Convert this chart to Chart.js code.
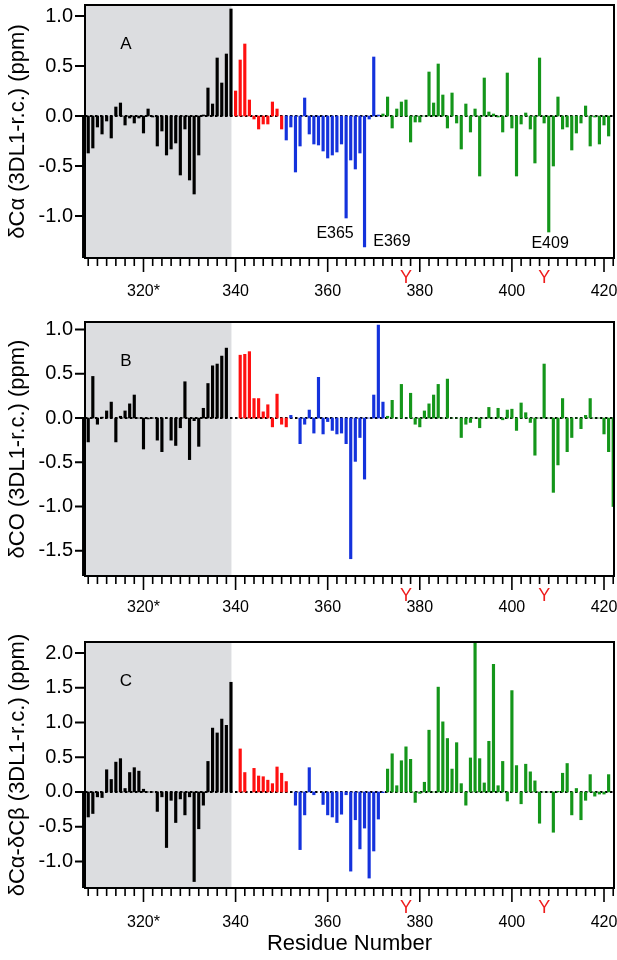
<!DOCTYPE html>
<html>
<head>
<meta charset="utf-8">
<title>3DL1 chemical shift differences</title>
<script src="https://cdn.jsdelivr.net/npm/chart.js@4.4.1/dist/chart.umd.min.js"></script>
<style>
  html, body { margin: 0; padding: 0; background: #fff; }
  body { width: 617px; height: 960px; position: relative; overflow: hidden; }
  .panel { position: absolute; left: 0; width: 617px; }
  #boxA { top: 0; height: 315px; }
  #boxB { top: 300px; height: 325px; }
  #boxC { top: 615px; height: 345px; }
</style>
</head>
<body>
<div class="panel" id="boxA"><canvas id="chartA"></canvas></div>
<div class="panel" id="boxB"><canvas id="chartB"></canvas></div>
<div class="panel" id="boxC"><canvas id="chartC"></canvas></div>
<script>
// one value per residue, starting at firstResidue (null = no bar)
const firstResidue = 307;

// A: dCa (3DL1 - r.c.) ppm
const dCaA = [
  -1.5, -0.37, -0.32, -0.11, -0.18, -0.05, -0.22, 0.09, 0.13, -0.09,
  -0.02, -0.07, -0.02, -0.17, 0.07, -0.01, -0.30, -0.15, -0.39, -0.33,
  -0.27, -0.59, -0.13, -0.64, -0.78, -0.39, 0.01, 0.28, 0.12, 0.58,
  0.33, 0.62, 1.07, 0.25, 0.56, 0.72, 0.16, -0.03, -0.13, -0.08,
  -0.08, 0.14, 0.07, -0.13, -0.24, -0.11, -0.56, -0.30, 0.18, -0.18,
  -0.28, -0.29, -0.35, -0.42, -0.39, -0.36, -0.28, -1.02, -0.44, -0.53,
  -0.37, -1.31, -0.03, 0.59, 0.01, 0.02, 0.19, -0.12, 0.07, 0.14,
  0.16, -0.26, -0.06, -0.06, 0.00, 0.44, 0.13, 0.52, 0.21, -0.12,
  0.23, -0.07, -0.33, 0.12, -0.16, 0.07, -0.60, 0.38, 0.04, 0.02,
  -0.01, -0.16, 0.43, -0.12, -0.60, -0.08, 0.03, -0.13, -0.47, 0.58,
  -0.07, -1.16, -0.50, 0.19, -0.13, -0.11, -0.34, -0.17, -0.07, 0.10,
  -0.30, -0.01, -0.28, -0.09, -0.20, null
];

// B: dCO (3DL1 - r.c.) ppm
const dCoB = [
  -1.9, -0.27, 0.47, -0.07, 0.01, 0.08, 0.18, -0.27, 0.02, 0.08,
  0.16, 0.26, 0.00, -0.35, -0.01, 0.00, -0.25, -0.38, 0.00, -0.25,
  -0.31, -0.11, 0.41, -0.47, -0.03, -0.32, 0.11, 0.39, 0.59, 0.61,
  0.70, 0.79, null, null, 0.71, 0.72, 0.75, 0.22, 0.22, 0.07,
  0.15, -0.10, 0.27, -0.07, -0.10, 0.03, null, -0.29, -0.07, 0.09,
  -0.17, 0.46, -0.18, -0.04, -0.14, -0.18, -0.17, -0.29, -1.59, -0.49,
  -0.22, -0.69, 0.00, 0.26, 1.05, 0.18, 0.02, 0.20, 0.00, 0.38,
  0.00, 0.28, -0.07, -0.10, 0.08, 0.16, 0.26, 0.38, 0.00, 0.44,
  0.00, 0.00, -0.22, -0.07, -0.05, 0.00, -0.11, 0.00, 0.12, 0.00,
  0.11, -0.02, 0.09, 0.10, -0.14, 0.17, 0.06, -0.05, -0.42, 0.00,
  0.61, 0.00, -0.84, -0.53, 0.22, -0.38, -0.22, 0.00, -0.12, 0.03,
  0.22, 0.00, 0.00, -0.18, -0.38, -1.00
];

// C: dCa - dCb (3DL1 - r.c.) ppm
const dCaCbC = [
  -1.5, -0.36, -0.31, -0.07, -0.08, 0.32, 0.18, 0.43, 0.48, 0.05,
  0.28, 0.35, 0.30, 0.04, 0.00, 0.00, -0.28, -0.07, -0.80, -0.12,
  -0.44, -0.10, -0.33, -0.07, -1.29, -0.53, -0.19, 0.44, 0.92, 0.85,
  1.05, 0.96, 1.58, null, 0.62, 0.28, null, 0.34, 0.23, 0.22,
  0.17, 0.12, 0.36, 0.27, 0.15, null, -0.19, -0.83, -0.33, 0.35,
  -0.04, null, -0.18, -0.33, -0.36, -0.44, -0.32, -0.04, -1.14, -0.40,
  -0.82, -0.52, -1.24, -0.85, -0.39, -0.01, 0.33, 0.55, 0.09, 0.45,
  0.65, 0.47, -0.15, -0.02, 0.14, 0.89, 0.00, 1.51, 1.01, 0.77,
  0.33, 0.71, 0.12, -0.19, 0.49, 2.20, 0.48, 0.13, 0.73, 1.84,
  0.09, 0.44, -0.13, 1.46, 0.38, -0.17, 0.40, 0.29, 0.16, -0.45,
  0.00, 0.00, -0.58, 0.01, 0.27, 0.41, -0.33, 0.05, -0.40, -0.12,
  0.25, -0.06, -0.03, -0.03, 0.25, null
];

// residue ranges of each coloured segment
const regionsA = { black: [307, 339], red: [340, 350], blue: [351, 371], green: [372, 422] };
const regionsB = { black: [307, 338], red: [341, 351], blue: [352, 372], green: [373, 422] };
const regionsC = { black: [307, 340], red: [341, 351], blue: [352, 372], green: [373, 422] };

const xTicks = [320, 340, 360, 380, 400, 420];
const yTicksA = [-1.0, -0.5, 0.0, 0.5, 1.0];
const yTicksB = [-1.5, -1.0, -0.5, 0.0, 0.5, 1.0];
const yTicksC = [-1.0, -0.5, 0.0, 0.5, 1.0, 1.5, 2.0];

const tyrResidues = [377, 407];
const shadeEnd = 339.1;
const peakLabelsA = [
  { text: "E365", x: 361.6, y: -1.22, align: "center" },
  { text: "E369", x: 369.9, y: -1.30, align: "left" },
  { text: "E409", x: 408.3, y: -1.32, align: "center" }
];

const colors = { black: "#000000", red: "#ff1010", blue: "#1432dc", green: "#14961a" };
const fontFam = "'Liberation Sans', Arial, Helvetica, sans-serif";

Chart.defaults.color = "#000";
Chart.defaults.font.family = fontFam;

function buildDatasets(values, regions) {
  return Object.keys(regions).map(name => {
    const [from, to] = regions[name];
    const pts = [];
    values.forEach((v, i) => {
      const res = firstResidue + i;
      if (v !== null && res >= from && res <= to) pts.push({ x: res, y: v });
    });
    return {
      label: name,
      data: pts,
      backgroundColor: colors[name],
      barThickness: 2.5,
      grouped: false,
      clip: { left: 4, top: 0, right: 0, bottom: 0 }
    };
  });
}

// shading, zero line, frame, ticks and text around each panel
const panelDecor = {
  id: "panelDecor",
  beforeDatasetsDraw(chart, args, o) {
    const { ctx, chartArea: a, scales: { x, y } } = chart;
    ctx.save();
    ctx.fillStyle = "#dcdde0";
    ctx.fillRect(a.left, a.top, x.getPixelForValue(shadeEnd) - a.left, a.bottom - a.top);
    const y0 = y.getPixelForValue(0);
    ctx.strokeStyle = "#000";
    ctx.lineWidth = 2;
    ctx.setLineDash([2.5, 2.5]);
    ctx.beginPath();
    ctx.moveTo(a.left, y0);
    ctx.lineTo(a.right, y0);
    ctx.stroke();
    ctx.restore();
  },
  afterDraw(chart, args, o) {
    const { ctx, chartArea: a, scales: { x, y } } = chart;
    ctx.save();
    ctx.strokeStyle = "#000";
    ctx.lineWidth = 2;
    ctx.strokeRect(a.left, a.top, a.right - a.left, a.bottom - a.top);

    // x ticks, minor every 2 residues
    ctx.lineWidth = 1.6;
    ctx.beginPath();
    for (let r = 308; r <= 422; r += 2) {
      const px = x.getPixelForValue(r);
      const len = r % 20 === 0 ? 14 : 8;
      ctx.moveTo(px, a.bottom);
      ctx.lineTo(px, a.bottom + len);
    }
    ctx.stroke();

    // y ticks
    ctx.lineWidth = 2;
    ctx.beginPath();
    o.yTicks.forEach(v => {
      const py = y.getPixelForValue(v);
      ctx.moveTo(a.left - 10, py);
      ctx.lineTo(a.left, py);
    });
    ctx.stroke();

    // panel letter
    ctx.fillStyle = "#000";
    ctx.font = "17px " + fontFam;
    ctx.textAlign = "center";
    ctx.textBaseline = "middle";
    ctx.fillText(o.letter, a.left + 41, a.top + 39);

    // y title
    ctx.save();
    ctx.translate(23.5, (a.top + a.bottom) / 2);
    ctx.rotate(-Math.PI / 2);
    ctx.font = "22px " + fontFam;
    ctx.textAlign = "center";
    ctx.textBaseline = "alphabetic";
    ctx.fillText(o.yTitle, 0, 0);
    ctx.restore();

    // tyrosine markers under the axis
    ctx.fillStyle = "#ee1c1c";
    ctx.font = "18px " + fontFam;
    ctx.textAlign = "center";
    ctx.textBaseline = "top";
    tyrResidues.forEach(r => ctx.fillText("Y", x.getPixelForValue(r), a.bottom + 11));

    // peak labels
    ctx.fillStyle = "#000";
    ctx.font = "16px " + fontFam;
    ctx.textBaseline = "alphabetic";
    (o.peakLabels || []).forEach(l => {
      ctx.textAlign = l.align;
      ctx.fillText(l.text, x.getPixelForValue(l.x), y.getPixelForValue(l.y));
    });

    if (o.xTitle) {
      ctx.font = "22px " + fontFam;
      ctx.textAlign = "center";
      ctx.fillText(o.xTitle, (a.left + a.right) / 2, a.bottom + o.xTitleOffset);
    }
    ctx.restore();
  }
};

function makePanel(id, values, regions, cfg) {
  return new Chart(document.getElementById(id), {
    type: "bar",
    data: { datasets: buildDatasets(values, regions) },
    plugins: [panelDecor],
    options: {
      responsive: true,
      maintainAspectRatio: false,
      animation: false,
      layout: { autoPadding: false, padding: { top: cfg.padTop, right: 3, left: 0, bottom: 0 } },
      plugins: {
        legend: { display: false },
        tooltip: { enabled: false },
        panelDecor: {
          letter: cfg.letter, yTitle: cfg.yTitle, yTicks: cfg.yTicks,
          peakLabels: cfg.peakLabels, xTitle: cfg.xTitle, xTitleOffset: cfg.xTitleOffset
        }
      },
      scales: {
        x: {
          type: "linear",
          offset: false,
          min: 307.3,
          max: 422.17,
          grid: { display: false, drawTicks: false, offset: false },
          border: { display: false },
          afterBuildTicks: s => { s.ticks = xTicks.map(v => ({ value: v })); },
          afterFit: s => {
            s.height = cfg.xHeight;
            s.paddingLeft = 0;
            s.paddingRight = 0;
          },
          ticks: {
            autoSkip: false,
            maxRotation: 0,
            padding: cfg.xLabelPad,
            font: { size: 16 },
            callback: v => (v === 320 ? "320*" : String(v))
          }
        },
        y: {
          min: cfg.yMin,
          max: cfg.yMax,
          grid: { display: false, drawTicks: false },
          border: { display: false },
          afterBuildTicks: s => { s.ticks = cfg.yTicks.map(v => ({ value: v })); },
          afterFit: s => {
            s.width = 85;
            s.paddingTop = 0;
            s.paddingBottom = 0;
          },
          ticks: {
            padding: 12,
            font: { size: 20 },
            callback: v => v.toFixed(1)
          }
        }
      }
    }
  });
}

makePanel("chartA", dCaA, regionsA, {
  letter: "A", yTitle: "δCα (3DL1-r.c.) (ppm)", yTicks: yTicksA,
  yMin: -1.42, yMax: 1.11, padTop: 5, xHeight: 57, xLabelPad: 24,
  peakLabels: peakLabelsA
});

makePanel("chartB", dCoB, regionsB, {
  letter: "B", yTitle: "δCO (3DL1-r.c.) (ppm)", yTicks: yTicksB,
  yMin: -1.785, yMax: 1.085, padTop: 22, xHeight: 49, xLabelPad: 22
});

makePanel("chartC", dCaCbC, regionsC, {
  letter: "C", yTitle: "δCα-δCβ (3DL1-r.c.) (ppm)", yTicks: yTicksC,
  yMin: -1.383, yMax: 2.16, padTop: 27, xHeight: 72, xLabelPad: 25,
  xTitle: "Residue Number", xTitleOffset: 62
});
</script>
</body>
</html>
